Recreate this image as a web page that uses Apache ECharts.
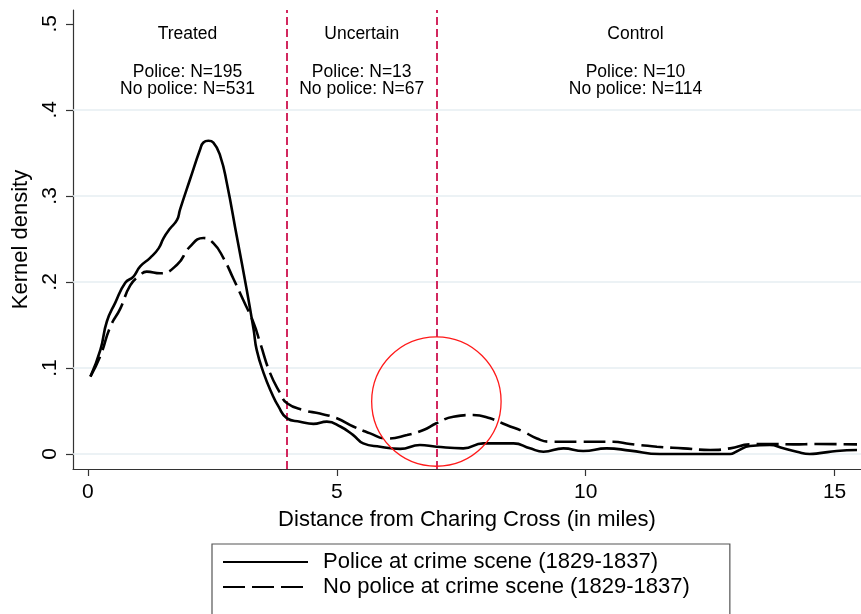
<!DOCTYPE html>
<html><head><meta charset="utf-8">
<script src="https://cdn.jsdelivr.net/npm/echarts@6/dist/echarts.min.js"></script>
<style>html,body{margin:0;padding:0;background:#fff}#c{width:861px;height:614px}</style>
</head><body><div id="c"></div><script>
const policeDist = [0.05,0.25,0.38,0.55,0.75,0.91,1.05,1.25,1.42,1.52,1.65,1.79,1.85,2.05,2.26,2.32,2.42,2.52,2.66,2.79,2.99,3.19,3.33,3.39,3.53,3.69,3.83,4.0,4.26,4.53,4.8,5.07,5.33,5.53,5.87,6.27,6.67,7.0,7.54,7.94,8.55,8.88,9.15,9.55,9.95,10.42,10.89,11.49,12.9,13.03,13.3,13.7,13.97,14.24,14.5,14.7,15.04,15.45];
const policeDensity = [0.090,0.121,0.154,0.176,0.199,0.206,0.218,0.228,0.239,0.251,0.262,0.272,0.284,0.319,0.355,0.362,0.364,0.362,0.346,0.315,0.253,0.191,0.144,0.121,0.094,0.071,0.055,0.0415,0.0376,0.035,0.0376,0.032,0.022,0.0124,0.0085,0.006,0.0105,0.0085,0.0066,0.0124,0.0124,0.0066,0.0027,0.0066,0.0035,0.0066,0.004,0.0,0.0,0.003,0.0093,0.0105,0.0066,0.0027,0.0,0.001,0.0035,0.0047];
const noPoliceDist = [0.05,0.25,0.45,0.65,0.85,1.05,1.18,1.45,1.79,2.05,2.32,2.52,2.72,2.92,3.12,3.33,3.46,3.66,3.86,4.0,4.33,4.66,5.0,5.33,5.67,6.0,6.41,6.74,7.0,7.34,7.74,8.08,8.41,8.75,9.02,9.28,9.89,10.55,10.89,11.43,11.96,12.5,12.9,13.3,13.7,14.17,14.64,15.45];
const noPoliceDensity = [0.090,0.114,0.148,0.169,0.196,0.208,0.212,0.210,0.220,0.241,0.251,0.245,0.228,0.204,0.179,0.152,0.129,0.094,0.071,0.059,0.051,0.047,0.0415,0.032,0.024,0.018,0.022,0.028,0.0357,0.0434,0.0453,0.0415,0.0337,0.026,0.018,0.0143,0.0143,0.0143,0.0116,0.0085,0.0066,0.0047,0.0066,0.0112,0.0116,0.0112,0.0116,0.0112];
const xTicks = [0,5,10,15];
const yTicks = [0,0.1,0.2,0.3,0.4,0.5];
const gridValues = [0,0.1,0.2,0.3,0.4];
const cutoffs = [4,7];
const regionNames = ['Treated','Uncertain','Control'];
const regionCenters = [2,5.5,11];
const policeN = [195,13,10];
const noPoliceN = [531,67,114];
const seriesNames = ['Police at crime scene (1829-1837)','No police at crime scene (1829-1837)'];
const highlightCenter = [7,0.061];
const highlightRadiusMiles = 1.3;

const FONT = "'Liberation Sans', Arial, Helvetica, sans-serif";
const chart = echarts.init(document.getElementById('c'), null, {renderer:'canvas'});
const zip = (a,b)=>a.map((v,i)=>[v,b[i]]);

const option = {
  animation:false,
  backgroundColor:'#fff',
  textStyle:{fontFamily:FONT,color:'#000'},
  grid:{left:73,right:0,top:10,bottom:145,containLabel:false},
  xAxis:{type:'value',min:-0.3,max:15.53,
    name:'Distance from Charing Cross (in miles)',nameLocation:'middle',nameGap:40,
    nameTextStyle:{fontSize:22,color:'#000',fontFamily:FONT},
    axisLine:{show:true,onZero:false,lineStyle:{color:'#333',width:1.2}},
    axisTick:{show:true,length:7,customValues:xTicks,lineStyle:{color:'#333',width:1.2}},
    axisLabel:{customValues:xTicks,fontSize:21,color:'#000',margin:13,fontFamily:FONT,formatter:v=>String(v)},
    splitLine:{show:false}},
  yAxis:{type:'value',min:-0.0174,max:0.516,
    name:'Kernel density',nameLocation:'middle',nameGap:36,nameRotate:90,
    nameTextStyle:{fontSize:22,color:'#000',fontFamily:FONT},
    axisLine:{show:true,onZero:false,lineStyle:{color:'#333',width:1.2}},
    axisTick:{show:true,length:7,customValues:yTicks,lineStyle:{color:'#333',width:1.2}},
    axisLabel:{customValues:yTicks,fontSize:21,color:'#000',rotate:90,margin:12,fontFamily:FONT,
      formatter:v=>{const s=(+v).toFixed(1);return s==='0.0'?'0':s.replace(/^0/,'');}},
    splitLine:{show:false}},
  legend:{show:true,orient:'vertical',left:212,top:544,height:120,
    padding:[7,40,30,10],itemGap:3,itemWidth:85,itemHeight:14,
    borderColor:'#555',borderWidth:1.2,backgroundColor:'#fff',
    itemStyle:{color:'rgba(0,0,0,0)',borderColor:'rgba(0,0,0,0)',borderWidth:0},
    textStyle:{fontSize:22,color:'#000',fontFamily:FONT,padding:[0,0,0,10]},
    data:seriesNames},
  series:[
    {type:'scatter',name:'grid',data:[],silent:true,z:1,
     markLine:{silent:true,symbol:['none','none'],label:{show:false},animation:false,
       lineStyle:{color:'#e6eef2',width:1.5,type:'solid'},
       data:gridValues.map(v=>({yAxis:v}))}},
    {type:'scatter',name:'cutoffs',data:[],silent:true,z:2,
     markLine:{silent:true,symbol:['none','none'],label:{show:false},animation:false,
       lineStyle:{color:'#d2285e',width:2,type:[8,4]},
       data:cutoffs.map(v=>({xAxis:v}))}},
    {type:'line',name:seriesNames[0],data:zip(policeDist,policeDensity),showSymbol:false,symbol:'none',
     smooth:0.5,z:5,lineStyle:{color:'#000',width:2.6,type:'solid'},itemStyle:{color:'rgba(0,0,0,0)'}},
    {type:'line',name:seriesNames[1],data:zip(noPoliceDist,noPoliceDensity),showSymbol:false,symbol:'none',
     smooth:0.5,z:5,lineStyle:{color:'#000',width:2.6,type:[22,7]},itemStyle:{color:'rgba(0,0,0,0)'}}
  ]
};
chart.setOption(option);

const g = [];
const levels = [0.488,0.444,0.424];
regionNames.forEach((nm,i)=>{
  const lines=[nm,'Police: N='+policeN[i],'No police: N='+noPoliceN[i]];
  lines.forEach((t,j)=>{
    const p = chart.convertToPixel({gridIndex:0},[regionCenters[i],levels[j]]);
    g.push({type:'text',x:p[0],y:p[1],silent:true,z:10,
      style:{text:t,fontSize:17.5,fontFamily:FONT,fill:'#000',align:'center',verticalAlign:'middle'}});
  });
});
const c = chart.convertToPixel({gridIndex:0},highlightCenter);
const e = chart.convertToPixel({gridIndex:0},[highlightCenter[0]+highlightRadiusMiles,highlightCenter[1]]);
g.push({type:'circle',silent:true,z:20,shape:{cx:c[0],cy:c[1],r:e[0]-c[0]},
  style:{fill:'none',stroke:'#ff1a1a',lineWidth:1.3}});
chart.setOption({graphic:g});
</script></body></html>
